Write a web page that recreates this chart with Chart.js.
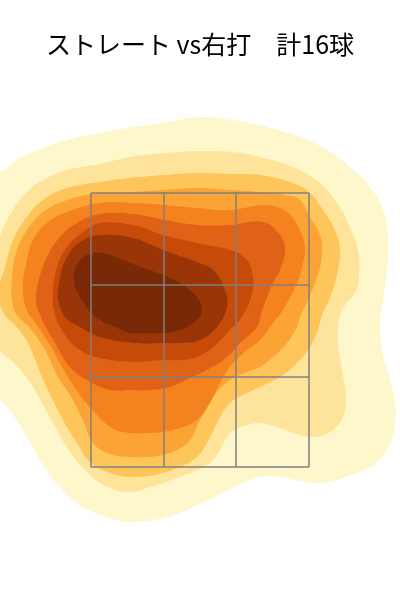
<!DOCTYPE html>
<html>
<head>
<meta charset="utf-8">
<script src="https://cdn.jsdelivr.net/npm/chart.js@4/dist/chart.umd.min.js"></script>
<style>
  html, body { margin: 0; padding: 0; background: #ffffff; }
  #wrap { width: 400px; height: 600px; position: relative; }
</style>
</head>
<body>
<div id="wrap"><canvas id="c"></canvas></div>
<script>
// ---- Data (plate location in cm: x = horizontal, y = height) ----
const chartTitle = 'ストレート vs右打　計16球';

// Strike zone grid lines
const zoneX = [-21.8, -7.2, 7.2, 21.8];
const zoneY = [101.4, 83, 64.6, 46.6];

// Density contour levels (outer boundary of each filled band), lowest density first
const level1 = [[-48,104],[-40,105.6],[-36.6,108],[-33.4,109.6],[-26.6,112],[-20,113.4],[-13.4,114.6],[-6.6,115.6],[0,116.6],[6.6,116],[13.4,114.6],[20,112.6],[25.4,110],[30,106.6],[34,102.6],[36.6,98],[37.6,92],[37.4,86],[36.6,80],[36,76],[36.4,70],[38,64],[39,59.4],[39,55.4],[37.4,50],[34,46.6],[28.6,44.4],[24,43.4],[20,43.8],[16,44.6],[12,44.6],[8,43.2],[4,41.2],[0,39.2],[-6.6,36.6],[-13.4,35.6],[-18,36.4],[-23.4,38.6],[-28,42.6],[-31.4,47],[-34,51.6],[-37.4,57],[-40,60],[-48,64],[-52,85]];
const level2 = [[-43,80],[-40,92.6],[-37.4,98],[-34.6,101.6],[-31.4,104],[-26.6,106],[-20,107.2],[-14,108.6],[-7,109.4],[0,109.8],[6.6,109.6],[12,108.6],[18.6,106.6],[24,103.4],[27.4,99.4],[30,94.6],[31.6,90],[31.8,84.6],[31,81.4],[29,79],[27.8,76],[27.6,71.4],[28.4,66],[29.2,60.6],[28.6,56.6],[26.6,54],[24,52.8],[22,52.6],[18.6,53.4],[15.4,54.6],[12,55.4],[9.4,55],[6,53.4],[4,50],[2,47.4],[-0.6,46],[-4,44.6],[-7.4,43.4],[-10.6,42.4],[-14,41.6],[-18,42.4],[-22,45],[-26,49.6],[-28.6,54],[-31.4,59],[-34,63.6],[-37.4,67.6],[-40,70]];
const level3 = [[-40.4,81],[-39,86.6],[-37.4,92],[-34.6,96.6],[-31.4,100],[-26.6,102.4],[-20,103.6],[-14,104.4],[-7,105],[-0.6,105.4],[6,105.2],[12,105],[18.6,103.4],[22,101.4],[24.6,98],[27,94],[28,90],[27.6,86],[27,83.4],[25.8,80],[24.4,77],[23.6,74],[21.6,70],[19,67],[16,64.6],[12,62.6],[9.4,61.4],[6,59.4],[3.4,55.4],[1.4,51.4],[-0.6,48.6],[-4,46.6],[-7.4,45.4],[-10.6,44.8],[-14,44.6],[-18,45.4],[-22,47.6],[-24.6,51.4],[-27.4,56],[-31.6,64.6],[-34.4,71.4],[-37,75],[-39,77]];
const level4 = [[-37.6,80],[-37.6,84.6],[-36.6,90],[-34.6,94],[-31.4,97.6],[-26.6,100],[-20,101.4],[-14,101.6],[-7,102],[-0.6,102.4],[6,102],[12,101.6],[17,101],[20,100],[22,96.6],[24,93],[24.4,90],[24,86.4],[23,83.4],[21.6,80],[20,76.6],[19.4,74.6],[17.4,71.4],[14.6,68.6],[12,66.6],[9.4,65.6],[6,64],[2.6,60.6],[0,56],[-2,52],[-4.6,50],[-7.4,49],[-10.6,48.6],[-14,48.6],[-18,49.2],[-21.4,51.4],[-23.4,56],[-26,61],[-28.4,64.6],[-31,70],[-34,74.4],[-36.6,77]];
const level5 = [[-35.4,83.4],[-34.6,88],[-33.4,92],[-30.6,95.4],[-26.6,97.6],[-20,99.4],[-13.4,99.4],[-7,99],[-0.6,98.4],[6,98],[12.6,99],[16,98.4],[18.4,96.6],[20.4,93],[21,90],[20.4,86.4],[19.4,83.4],[16.6,78],[14.6,75.4],[12,72],[9.4,70],[6,66.6],[4,63.4],[2,59.4],[-0.6,56],[-4,54.4],[-7.4,53.6],[-10.6,53.4],[-14,53.4],[-17.6,54.4],[-21,57.4],[-24,61],[-27,65.6],[-30,71],[-32.6,75],[-34.8,78.4]];
const level6 = [[-32.8,80],[-32.4,83.4],[-30.6,88.6],[-28,92.6],[-24.6,95.4],[-20,97.2],[-13.4,97.2],[-7,96],[-0.6,95],[6,95],[12.6,95.6],[16,93],[17,90],[16,86],[14.6,83.4],[12.4,78],[11.4,74.6],[8,71.4],[5.4,68.6],[1.4,66],[-2,64.4],[-6,62.6],[-10,62],[-14,62],[-18,62],[-22.6,64],[-26,66.6],[-29,71.4],[-32,77]];
const level7 = [[-29.4,82],[-28.6,86.6],[-26.6,90.6],[-23.4,93.6],[-20,95.4],[-13.4,95],[-7.4,93],[-0.6,91.4],[6,90],[9.4,88],[10.6,84.6],[10.4,81.4],[8.6,77],[6,74],[2.6,70.6],[-0.6,68.6],[-4,68],[-7.4,68],[-13,67.6],[-20,68.4],[-24,70],[-27,73],[-29,77]];
const level8 = [[-28.4,80.6],[-28,84.6],[-26.6,88.6],[-24,91.6],[-20,93],[-13.4,92.4],[-7.4,90],[-0.6,87.6],[2.6,86],[5,82],[5.4,78.6],[3.4,74.6],[0,72],[-4,71.4],[-7.4,71.4],[-13,71.4],[-20,72.6],[-24,74.6],[-27,76.6]];
const level9 = [[-25,82.6],[-25.2,85.4],[-24,88],[-21.4,89.4],[-18,89],[-14,87.4],[-7.4,85],[-4,83.4],[-0.6,80.6],[0.4,78],[-0.6,76],[-4,74],[-7.4,73.4],[-10.6,73.4],[-14,73.4],[-16.6,74.4],[-20,76],[-22,77.6],[-23.6,80]];

const levels = [level1, level2, level3, level4, level5, level6, level7, level8, level9];

// ---- Styles ----
const levelColors = ['#fff7cc', '#fee39a', '#fec55a', '#fca335', '#f4821f', '#df6216', '#c74b08', '#993507', '#7a2906'];
const gridColor = '#808080';

// ---- Build datasets ----
// close each contour by wrapping around to its first two points so the curve is smooth at the seam
const toLoop = arr => {
  const pts = arr.map(p => ({x: p[0], y: p[1]}));
  return pts.concat([pts[0], pts[1]]);
};
const gridSets = [];
zoneX.forEach(x => gridSets.push({
  data: [{x: x, y: zoneY[0]}, {x: x, y: zoneY[zoneY.length - 1]}],
  showLine: true, borderColor: gridColor, borderWidth: 1.5, pointRadius: 0, fill: false
}));
zoneY.forEach(y => gridSets.push({
  data: [{x: zoneX[0], y: y}, {x: zoneX[zoneX.length - 1], y: y}],
  showLine: true, borderColor: gridColor, borderWidth: 1.5, pointRadius: 0, fill: false
}));
const contourSets = levels.map((lv, i) => ({
  data: toLoop(lv),
  showLine: true,
  borderWidth: 0,
  borderColor: levelColors[i],
  backgroundColor: levelColors[i],
  pointRadius: 0,
  tension: 0.4,
  fill: 'shape'
})).reverse(); // darkest first so it is drawn on top

new Chart(document.getElementById('c'), {
  type: 'scatter',
  data: { datasets: [...gridSets, ...contourSets] },
  options: {
    responsive: true,
    maintainAspectRatio: false,
    animation: false,
    layout: { padding: 0 },
    plugins: {
      legend: { display: false },
      tooltip: { enabled: false },
      title: {
        display: true,
        text: chartTitle,
        color: '#000000',
        font: { family: "'Noto Sans CJK JP', 'Noto Sans', sans-serif", size: 25, weight: 'normal' },
        padding: { top: 29, bottom: 21 }
      }
    },
    scales: {
      x: { type: 'linear', min: -40, max: 40, display: false },
      y: { type: 'linear', min: 20, max: 124, display: false }
    }
  }
});
</script>
</body>
</html>
